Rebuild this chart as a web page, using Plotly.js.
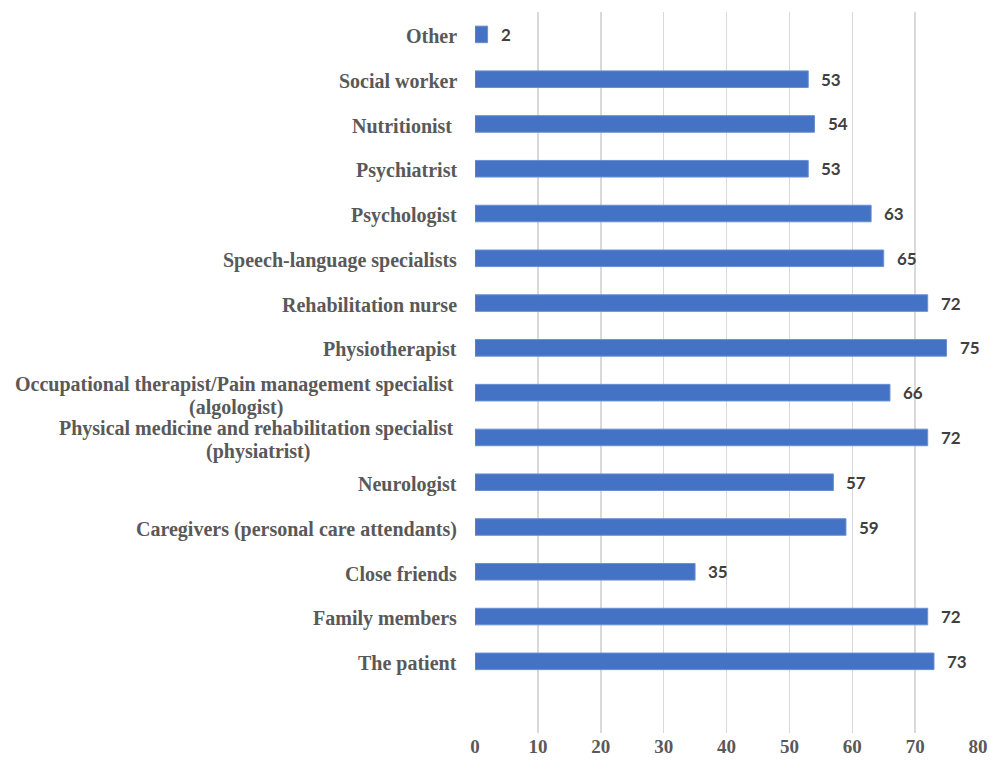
<!DOCTYPE html>
<html>
<head>
<meta charset="utf-8">
<script src="https://cdn.plot.ly/plotly-3.0.1.min.js"></script>
<style>
  html, body { margin: 0; padding: 0; background: #ffffff; }
  #chart { width: 990px; height: 760px; }
</style>
</head>
<body>
<div id="chart"></div>
<script>
// Team members involved, listed from the bottom bar upward
const categories = [
  "The patient",
  "Family members",
  "Close friends",
  "Caregivers (personal care attendants)",
  "Neurologist",
  "Physical medicine and rehabilitation specialist\u00a0\n(physiatrist)",
  "Occupational therapist/Pain management specialist\u00a0\n(algologist)",
  "Physiotherapist",
  "Rehabilitation nurse",
  "Speech-language specialists",
  "Psychologist",
  "Psychiatrist",
  "Nutritionist\u00a0",
  "Social worker",
  "Other"
];
const counts = [73, 72, 35, 59, 57, 72, 66, 75, 72, 65, 63, 53, 54, 53, 2];
const xTicks = [0, 10, 20, 30, 40, 50, 60, 70, 80];

const labelColor = "#595959";
const valueColor = "#404040";
const serif = "Liberation Serif";
const labelSize = 20;
const lineStep = 23;   // px between lines of a wrapped category name
const labelGap = 17;   // px between the name and the plot edge

// measure text so wrapped names can be centred under their widest line
const ctx = document.createElement("canvas").getContext("2d");
ctx.font = "bold " + labelSize + "px '" + serif + "'";
const textWidth = s => ctx.measureText(s).width;

const positions = categories.map((_, i) => i);

const trace = {
  type: "bar",
  orientation: "h",
  x: counts,
  y: positions,
  width: 0.37,
  marker: { color: "#4472C4", line: { color: "#6a8fd3", width: 1 } },
  hoverinfo: "x"
};

// Category names drawn at the left of each bar
const nameNotes = [];
categories.forEach((c, i) => {
  const lines = c.split("\n");
  const base = {
    xref: "paper", yref: "y", x: 0, y: i,
    yanchor: "middle", showarrow: false, borderpad: 0,
    font: { family: serif, size: labelSize, color: labelColor }
  };
  if (lines.length === 1) {
    nameNotes.push(Object.assign({}, base, {
      text: "<b>" + c + "</b>", xanchor: "right", xshift: -labelGap, yshift: -2
    }));
  } else {
    const wMax = Math.max(...lines.map(textWidth));
    lines.forEach((ln, k) => {
      nameNotes.push(Object.assign({}, base, {
        text: "<b>" + ln + "</b>", xanchor: "center",
        xshift: -labelGap - wMax / 2,
        yshift: ((lines.length - 1) / 2 - k) * lineStep - 3
      }));
    });
  }
});

// Value labels just past the end of each bar
const valueNotes = counts.map((v, i) => ({
  xref: "x", yref: "y",
  x: v, y: i,
  xanchor: "left", yanchor: "middle",
  xshift: 11,
  showarrow: false,
  text: "<b>" + v + "</b>",
  font: { family: "Lato", size: 17, color: valueColor }
}));

const layout = {
  width: 990,
  height: 760,
  margin: { l: 475, r: 12, t: 12, b: 27 },
  paper_bgcolor: "#ffffff",
  plot_bgcolor: "#ffffff",
  showlegend: false,
  xaxis: {
    range: [0, 80],
    tickvals: xTicks,
    ticktext: xTicks.map(t => "<b>" + t + "</b>"),
    showgrid: true,
    gridcolor: "#d9d9d9",
    gridwidth: 1.5,
    zeroline: false,
    showline: false,
    ticks: "",
    tickfont: { family: serif, size: 19, color: labelColor }
  },
  yaxis: {
    range: [-1.6, categories.length - 0.5],
    showticklabels: false,
    showgrid: false,
    zeroline: false,
    showline: false,
    ticks: ""
  },
  annotations: nameNotes.concat(valueNotes)
};

Plotly.newPlot("chart", [trace], layout, { displayModeBar: false, staticPlot: true });
</script>
</body>
</html>
